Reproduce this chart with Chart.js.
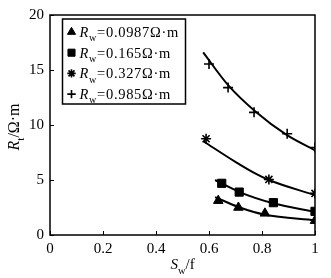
<!DOCTYPE html>
<html>
<head>
<meta charset="utf-8">
<script src="https://cdn.jsdelivr.net/npm/chart.js@4"></script>
<style>
  html, body { margin: 0; padding: 0; background: #fff; }
  #wrap { width: 331px; height: 278px; }
</style>
</head>
<body>
<div id="wrap"><canvas id="rtChart" width="331" height="278"></canvas></div>
<script>
// legend values (Rw, Ω·m)
const rwLabels = ['0.0987', '0.165', '0.327', '0.985'];

// measured points
const triSw  = [0.635, 0.711, 0.811, 1.0];
const triRt  = [3.12, 2.5, 1.97, 1.3];
const sqSw   = [0.648, 0.714, 0.843, 1.0];
const sqRt   = [4.7, 3.9, 2.94, 2.15];
const starSw = [0.589, 0.826, 1.0];
const starRt = [8.75, 5.05, 3.78];
const plusSw = [0.6, 0.672, 0.77, 0.895, 1.0];
const plusRt = [15.55, 13.4, 11.15, 9.2, 7.95];

// fitted curves
const triFitSw  = [0.623, 0.711, 0.811, 1.0];
const triFitRt  = [3.45, 2.55, 1.85, 1.35];
const sqFitSw   = [0.623, 0.711, 0.843, 1.0];
const sqFitRt   = [5.0, 3.95, 2.88, 2.1];
const starFitSw = [0.58, 0.698, 0.774, 0.826, 1.0];
const starFitRt = [8.5, 6.67, 5.6, 5.0, 3.62];
const plusFitSw = [0.578, 0.673, 0.774, 0.893, 1.0];
const plusFitRt = [16.6, 13.6, 11.25, 9.1, 7.7];

const xTicks = [0, 0.2, 0.4, 0.6, 0.8, 1];
const yTicks = [0, 5, 10, 15, 20];

const pts = (xs, ys) => xs.map((x, i) => ({ x: x, y: ys[i] }));
const SERIF = '"Liberation Serif", "DejaVu Serif", serif';

const markerStyles = [
  { pointStyle: 'triangle', radius: 5.5, borderWidth: 1 },
  { pointStyle: 'rect', radius: 5.8, borderWidth: 1 },
  { pointStyle: 'star', radius: 5, borderWidth: 1.6 },
  { pointStyle: 'cross', radius: 5, borderWidth: 1.6 }
];

function markerSet(data, m) {
  return {
    type: 'scatter',
    data: data,
    pointStyle: m.pointStyle,
    pointRadius: m.radius,
    borderWidth: m.borderWidth,
    backgroundColor: '#000',
    borderColor: '#000',
    showLine: false
  };
}
function curveSet(data) {
  return {
    type: 'line',
    data: data,
    borderColor: '#000',
    borderWidth: 2,
    pointRadius: 0,
    fill: false,
    cubicInterpolationMode: 'monotone'
  };
}

// draws text runs: [text, italic, sub]
function drawRuns(ctx, runs, x, y, size) {
  let cx = x;
  runs.forEach(r => {
    const fs = r[2] ? size * 0.7 : size;
    ctx.font = (r[1] ? 'italic ' : '') + fs + 'px ' + SERIF;
    ctx.fillText(r[0], cx, r[2] ? y + size * 0.3 : y);
    cx += ctx.measureText(r[0]).width;
  });
  return cx - x;
}
function runsWidth(ctx, runs, size) {
  let w = 0;
  runs.forEach(r => {
    const fs = r[2] ? size * 0.7 : size;
    ctx.font = (r[1] ? 'italic ' : '') + fs + 'px ' + SERIF;
    w += ctx.measureText(r[0]).width;
  });
  return w;
}

const framePlugin = {
  id: 'frame',
  afterDraw(chart) {
    const ctx = chart.ctx;
    const a = chart.chartArea;
    const xs = chart.scales.x, ys = chart.scales.y;
    ctx.save();
    ctx.strokeStyle = '#000';
    ctx.lineWidth = 1.5;
    ctx.strokeRect(a.left, a.top, a.right - a.left, a.bottom - a.top);
    // inward ticks
    ctx.lineWidth = 1;
    xTicks.forEach(v => {
      const px = Math.round(xs.getPixelForValue(v)) + 0.5;
      ctx.beginPath(); ctx.moveTo(px, a.bottom); ctx.lineTo(px, a.bottom - 4); ctx.stroke();
    });
    yTicks.forEach(v => {
      const py = Math.round(ys.getPixelForValue(v)) + 0.5;
      ctx.beginPath(); ctx.moveTo(a.left, py); ctx.lineTo(a.left + 4, py); ctx.stroke();
    });

    ctx.fillStyle = '#000';
    ctx.textBaseline = 'alphabetic';
    // x title S_w/f
    const xr = [['S', true, false], ['w', false, true], ['/f', false, false]];
    const xw = runsWidth(ctx, xr, 15);
    drawRuns(ctx, xr, (a.left + a.right) / 2 - xw / 2, 269, 15);
    // y title R_t/Ω·m
    const yr = [['R', true, false], ['t', false, true], ['/Ω·m', false, false]];
    const yw = runsWidth(ctx, yr, 16);
    ctx.save();
    ctx.translate(19, (a.top + a.bottom) / 2 + 2);
    ctx.rotate(-Math.PI / 2);
    drawRuns(ctx, yr, -yw / 2, 0, 16);
    ctx.restore();

    // legend box
    const bx = a.left + 12.5, by = a.top + 4, bw = 123, bh = 85;
    ctx.lineWidth = 1.5;
    ctx.strokeRect(bx, by, bw, bh);
    if ('letterSpacing' in ctx) ctx.letterSpacing = '0.7px';
    rwLabels.forEach((lab, i) => {
      const cy = by + 13 + i * 20.7;
      const m = markerStyles[i];
      ctx.lineWidth = m.borderWidth;
      ctx.fillStyle = '#000';
      ctx.strokeStyle = '#000';
      Chart.helpers.drawPoint(ctx, { pointStyle: m.pointStyle, radius: m.radius - 0.8, borderWidth: m.borderWidth }, bx + 9, cy);
      drawRuns(ctx, [['R', true, false], ['w', false, true], ['=' + lab + 'Ω·m', false, false]], bx + 17, cy + 5, 14.5);
    });
    ctx.restore();
  }
};

new Chart(document.getElementById('rtChart'), {
  data: {
    datasets: [
      curveSet(pts(triFitSw, triFitRt)),
      curveSet(pts(sqFitSw, sqFitRt)),
      curveSet(pts(starFitSw, starFitRt)),
      curveSet(pts(plusFitSw, plusFitRt)),
      markerSet(pts(triSw, triRt), markerStyles[0]),
      markerSet(pts(sqSw, sqRt), markerStyles[1]),
      markerSet(pts(starSw, starRt), markerStyles[2]),
      markerSet(pts(plusSw, plusRt), markerStyles[3])
    ]
  },
  options: {
    responsive: false,
    animation: false,
    layout: { padding: { top: 14, right: 16, left: 0, bottom: 0 } },
    plugins: { legend: { display: false }, tooltip: { enabled: false } },
    scales: {
      x: {
        type: 'linear', min: 0, max: 1,
        afterBuildTicks: s => { s.ticks = xTicks.map(v => ({ value: v })); },
        afterFit: s => { s.height = 43; },
        grid: { display: false, drawTicks: false },
        border: { display: false },
        ticks: {
          color: '#000', padding: 5,
          font: { family: SERIF, size: 15 },
          callback: v => String(Math.round(v * 10) / 10)
        }
      },
      y: {
        type: 'linear', min: 0, max: 20,
        afterBuildTicks: s => { s.ticks = yTicks.map(v => ({ value: v })); },
        afterFit: s => { s.width = 50; },
        grid: { display: false, drawTicks: false },
        border: { display: false },
        ticks: {
          color: '#000', padding: 6,
          font: { family: SERIF, size: 15 }
        }
      }
    }
  },
  plugins: [framePlugin]
});
</script>
</body>
</html>
